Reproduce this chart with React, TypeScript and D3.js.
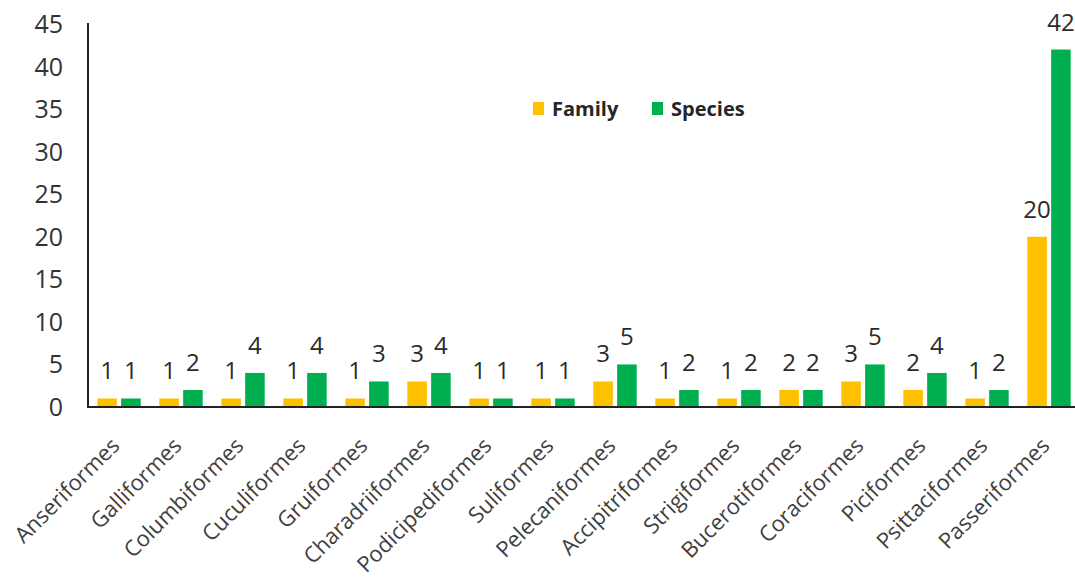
import React from "react";
import * as d3 from "d3";

const orders = [
  "Anseriformes",
  "Galliformes",
  "Columbiformes",
  "Cuculiformes",
  "Gruiformes",
  "Charadriiformes",
  "Podicipediformes",
  "Suliformes",
  "Pelecaniformes",
  "Accipitriformes",
  "Strigiformes",
  "Bucerotiformes",
  "Coraciformes",
  "Piciformes",
  "Psittaciformes",
  "Passeriformes",
];
const familyCounts = [1, 1, 1, 1, 1, 3, 1, 1, 3, 1, 1, 2, 3, 2, 1, 20];
const speciesCounts = [1, 2, 4, 4, 3, 4, 1, 1, 5, 2, 2, 2, 5, 4, 2, 42];
const seriesNames = ["Family", "Species"];
const seriesColors = ["#FFC000", "#00B050"];
const yTicks = [0, 5, 10, 15, 20, 25, 30, 35, 40, 45];

const width = 1075;
const height = 579;
const font = "'Open Sans', 'Noto Sans', sans-serif";

export default function App() {
  const left = 88;
  const baseline = 407;
  const top = 24;

  const x0 = d3
    .scaleBand<string>()
    .domain(orders)
    .range([left, left + 16 * 62])
    .paddingInner(0.3)
    .paddingOuter(0.15);
  const x1 = d3
    .scaleBand<string>()
    .domain(seriesNames)
    .range([0, x0.bandwidth()])
    .paddingInner(0.18);
  const y = d3.scaleLinear().domain([0, 45]).range([baseline, top]);

  const rows = orders.map((name, i) => ({
    name,
    values: [familyCounts[i], speciesCounts[i]],
  }));

  return (
    <svg
      width={width}
      height={height}
      viewBox={`0 0 ${width} ${height}`}
      style={{ position: "absolute", left: 0, top: 0, background: "#ffffff" }}
      fontFamily={font}
    >
      <rect width={width} height={height} fill="#ffffff" />
      {yTicks.map((t) => (
        <text
          key={t}
          x={63}
          y={y(t)}
          dy="0.36em"
          textAnchor="end"
          fontSize={25}
          fill="#333333"
        >
          {t}
        </text>
      ))}
      {rows.map((row) => (
        <g key={row.name} transform={`translate(${x0(row.name)},0)`}>
          {row.values.map((v, j) => {
            const bx = x1(seriesNames[j]) ?? 0;
            return (
              <g key={j}>
                <rect
                  x={bx}
                  y={y(v)}
                  width={x1.bandwidth()}
                  height={baseline - y(v)}
                  fill={seriesColors[j]}
                />
                <text
                  x={bx + x1.bandwidth() / 2}
                  y={y(v) - 19}
                  textAnchor="middle"
                  fontSize={24}
                  fill="#2b2b2b"
                >
                  {v}
                </text>
              </g>
            );
          })}
        </g>
      ))}
      <line x1={left} x2={left} y1={top - 1} y2={baseline} stroke="#222" strokeWidth={2} />
      <line x1={left - 1} x2={width} y1={baseline} y2={baseline} stroke="#222" strokeWidth={2} />
      {orders.map((name) => {
        const cx = (x0(name) ?? 0) + x0.bandwidth() / 2 + 2;
        return (
          <text
            key={name}
            transform={`translate(${cx},${baseline + 40}) rotate(-45)`}
            textAnchor="end"
            fontSize={22}
            fill="#404040"
          >
            {name}
          </text>
        );
      })}
      <g transform="translate(533,109)">
        {seriesNames.map((s, i) => (
          <g key={s} transform={`translate(${i * 119},0)`}>
            <rect x={0} y={-7} width={11} height={13} fill={seriesColors[i]} />
            <text x={19} y={0} dy="0.35em" fontSize={20} fontWeight={700} fill="#262626">
              {s}
            </text>
          </g>
        ))}
      </g>
    </svg>
  );
}
